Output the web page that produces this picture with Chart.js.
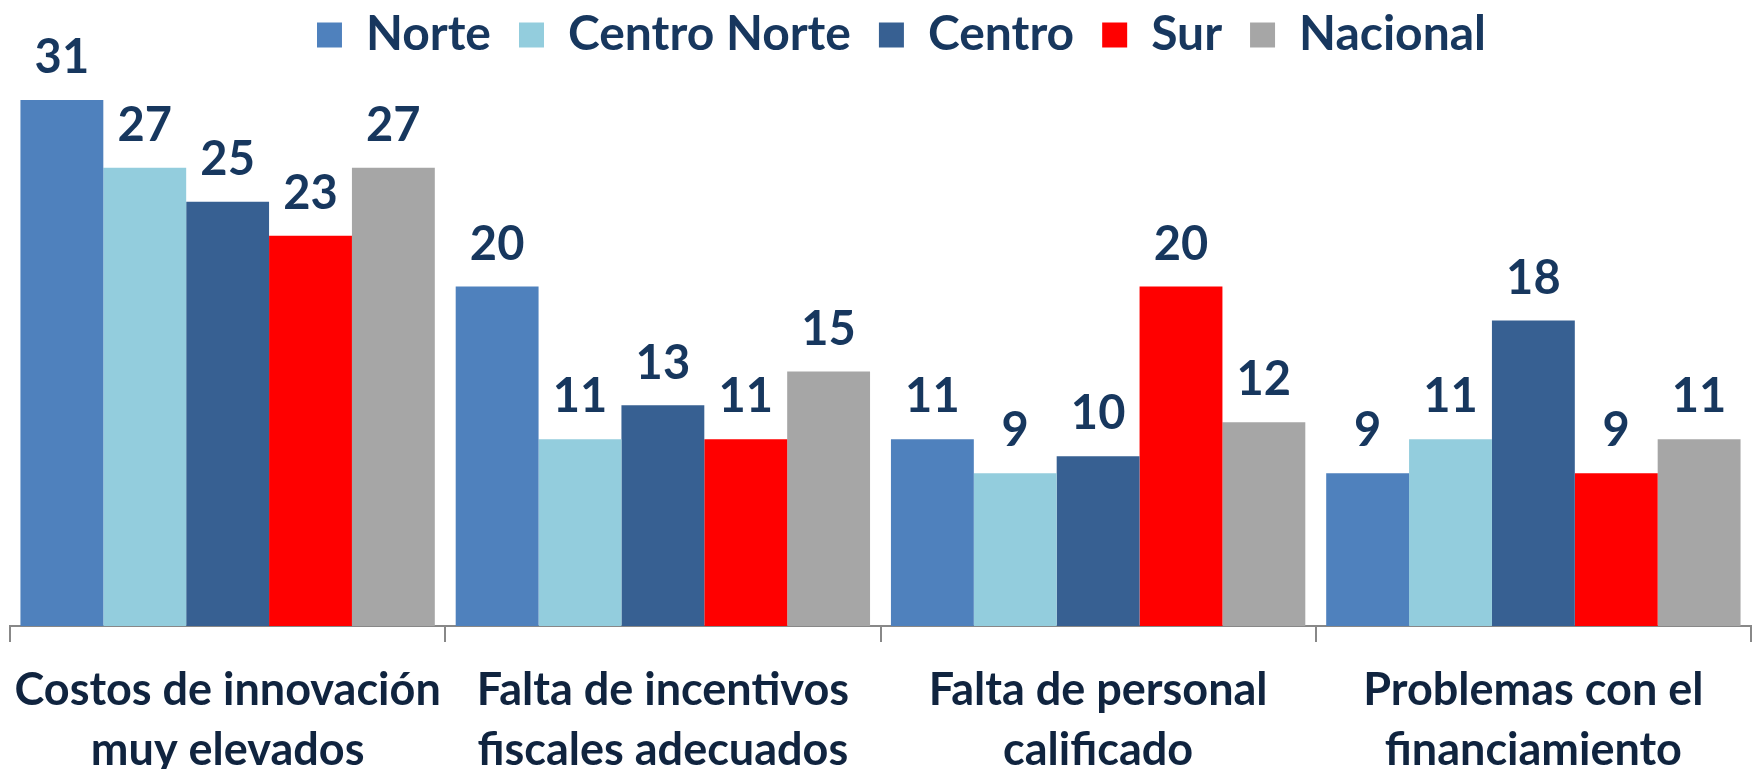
<!DOCTYPE html>
<html>
<head>
<meta charset="utf-8">
<script src="https://cdn.jsdelivr.net/npm/chart.js@4.4.1/dist/chart.umd.min.js"></script>
<style>
  html, body { margin: 0; padding: 0; background: #fff; }
  #wrap { width: 1752px; height: 769px; }
</style>
</head>
<body>
<div id="wrap"><canvas id="grafico" width="1752" height="769"></canvas></div>
<script>
// Categorias (duas linhas cada) e valores por região
const categorias = [
  ['Costos de innovación', 'muy elevados'],
  ['Falta de incentivos', 'fiscales adecuados'],
  ['Falta de personal', 'calificado'],
  ['Problemas con el', 'financiamiento']
];
const norte = [31, 20, 11, 9];
const centroNorte = [27, 11, 9, 11];
const centro = [25, 13, 10, 18];
const sur = [23, 11, 20, 9];
const nacional = [27, 15, 12, 11];

const FONTE = "Lato, 'Liberation Sans', sans-serif";
const COR_TEXTO = '#17375E';

// Desenha o valor acima de cada barra
const rotulos = {
  id: 'rotulos',
  afterDatasetsDraw(chart) {
    const ctx = chart.ctx;
    ctx.save();
    ctx.font = 'bold 47px ' + FONTE;
    ctx.fillStyle = COR_TEXTO;
    ctx.textAlign = 'center';
    ctx.textBaseline = 'middle';
    chart.data.datasets.forEach((ds, i) => {
      chart.getDatasetMeta(i).data.forEach((bar, j) => {
        ctx.fillText(ds.data[j], bar.x, bar.y - 42);
      });
    });
    ctx.restore();
  }
};

// A legenda do original fica um pouco à direita do centro
const deslocaLegenda = {
  id: 'deslocaLegenda',
  afterLayout(chart) {
    chart.legend.left += 21;
    chart.legend.right += 21;
  }
};

function serie(label, data, cor) {
  return { label, data, backgroundColor: cor, borderWidth: 0 };
}

new Chart(document.getElementById('grafico'), {
  type: 'bar',
  data: {
    labels: categorias,
    datasets: [
      serie('Norte', norte, '#4F81BD'),
      serie('Centro Norte', centroNorte, '#93CDDD'),
      serie('Centro', centro, '#376092'),
      serie('Sur', sur, '#FF0000'),
      serie('Nacional', nacional, '#A6A6A6')
    ]
  },
  options: {
    responsive: false,
    animation: false,
    devicePixelRatio: 1,
    layout: { padding: { top: -17, left: 10, right: 1, bottom: 0 } },
    datasets: { bar: { categoryPercentage: 0.952, barPercentage: 1 } },
    plugins: {
      legend: {
        position: 'top',
        labels: {
          color: COR_TEXTO,
          font: { family: FONTE, size: 48, weight: 'bold' },
          boxWidth: 25,
          boxHeight: 25,
          padding: 28
        }
      },
      tooltip: { enabled: false }
    },
    scales: {
      x: {
        // altura fixa e sem folga lateral extra por causa dos rótulos
        afterFit: s => { s.height = 143; s.paddingLeft = 0; s.paddingRight = 0; },
        border: { display: true, color: '#888888', width: 2 },
        grid: {
          offset: true,
          drawOnChartArea: false,
          drawTicks: true,
          tickLength: 16,
          color: '#888888',
          lineWidth: 2
        },
        ticks: {
          color: '#10243F',
          font: { family: FONTE, size: 45, weight: 'bold', lineHeight: 1.32 },
          padding: 19,
          maxRotation: 0,
          autoSkip: false
        }
      },
      y: {
        display: false,
        min: 0,
        max: 32.82
      }
    }
  },
  plugins: [rotulos, deslocaLegenda]
});
</script>
</body>
</html>
